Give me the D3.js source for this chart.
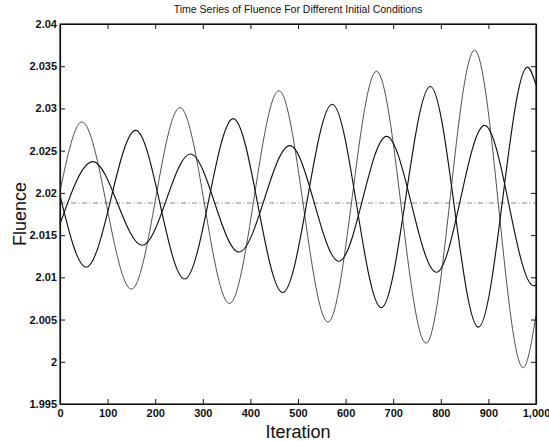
<!DOCTYPE html>
<html>
<head>
<meta charset="utf-8">
<script src="https://cdn.jsdelivr.net/npm/d3@7"></script>
<style>
  body { margin: 0; background: #fff; }
  text { font-family: "Liberation Sans", Arial, sans-serif; fill: #111; }
</style>
</head>
<body>
<svg id="chart" width="549" height="441"></svg>
<script>
// iteration / fluence pairs: ends plus every peak and trough
var seriesA = [
  [0, 2.0202], [46, 2.0284], [150, 2.0086], [252, 2.0301], [356, 2.0069],
  [460, 2.0321], [563, 2.0047], [665, 2.0344], [769, 2.0022], [871, 2.0369],
  [973, 1.9993], [1000, 2.0055]
];
var seriesB = [
  [0, 2.0197], [55, 2.0112], [159, 2.0274], [262, 2.0098], [364, 2.0288],
  [468, 2.0082], [572, 2.0305], [675, 2.0064], [778, 2.0326], [879, 2.0041],
  [982, 2.0349], [1000, 2.0328]
];
var seriesC = [
  [0, 2.0163], [69, 2.0237], [173, 2.0138], [274, 2.0246], [376, 2.0130],
  [483, 2.0256], [586, 2.0119], [686, 2.0267], [791, 2.0106], [892, 2.0280],
  [995, 2.0090], [1000, 2.0091]
];
var steadyState = [[0, 2.0188], [1000, 2.0188]];

var xTicks = [0, 100, 200, 300, 400, 500, 600, 700, 800, 900, 1000];
var yTicks = [1.995, 2, 2.005, 2.01, 2.015, 2.02, 2.025, 2.03, 2.035, 2.04];
var yTickLabels = ["1.995", "2", "2.005", "2.01", "2.015", "2.02", "2.025", "2.03", "2.035", "2.04"];

var svg = d3.select("#chart"),
  margin = { top: 24, right: 13, bottom: 37, left: 60 },
  width = +svg.attr("width") - margin.left - margin.right,
  height = +svg.attr("height") - margin.top - margin.bottom,
  g = svg.append("g")
    .attr("transform", "translate(" + margin.left + "," + margin.top + ")");

var x = d3.scaleLinear().domain([0, 1000]).range([0, width]);
var y = d3.scaleLinear().domain([1.995, 2.04]).range([height, 0]);

var line = d3.line()
  .x(function(d) { return x(d[0]); })
  .y(function(d) { return y(d[1]); })
  .curve(d3.curveMonotoneX);

// dash-dot reference level
g.append("path")
  .datum(steadyState)
  .attr("fill", "none")
  .attr("stroke", "#555")
  .attr("stroke-width", 0.7)
  .attr("stroke-dasharray", "5,2.5,1,2.5")
  .attr("d", line);

g.append("path")
  .datum(seriesA)
  .attr("fill", "none")
  .attr("stroke", "#333")
  .attr("stroke-width", 0.85)
  .attr("d", line);

g.append("path")
  .datum(seriesB)
  .attr("fill", "none")
  .attr("stroke", "#111")
  .attr("stroke-width", 1.15)
  .attr("d", line);

g.append("path")
  .datum(seriesC)
  .attr("fill", "none")
  .attr("stroke", "#111")
  .attr("stroke-width", 1.15)
  .attr("d", line);

// axes, ticks pointing inward on all sides
var xAxis = g.append("g")
  .attr("transform", "translate(0," + height + ")")
  .call(d3.axisBottom(x).tickValues(xTicks).tickSizeInner(-5).tickSizeOuter(0).tickPadding(4));
xAxis.selectAll("text").attr("font-size", 11).attr("font-weight", "bold").attr("dy", "0.85em");

var yAxis = g.append("g")
  .call(d3.axisLeft(y).tickValues(yTicks)
    .tickFormat(function(d, i) { return yTickLabels[i]; })
    .tickSizeInner(-5).tickSizeOuter(0).tickPadding(3));
yAxis.selectAll("text").attr("font-size", 11).attr("font-weight", "bold");

g.append("g")
  .call(d3.axisTop(x).tickValues(xTicks).tickSizeInner(-5).tickSizeOuter(0).tickFormat(""));
g.append("g")
  .attr("transform", "translate(" + width + ",0)")
  .call(d3.axisRight(y).tickValues(yTicks).tickSizeInner(-5).tickSizeOuter(0).tickFormat(""));

g.selectAll(".domain").attr("stroke", "#111").attr("stroke-width", 1.2);
g.selectAll(".tick line").attr("stroke", "#111");

g.append("rect")
  .attr("width", width)
  .attr("height", height)
  .attr("fill", "none")
  .attr("stroke", "#111")
  .attr("stroke-width", 1.2);

svg.append("text")
  .attr("x", margin.left + width / 2)
  .attr("y", 13)
  .attr("text-anchor", "middle")
  .attr("font-size", 10.5)
  .text("Time Series of Fluence For Different Initial Conditions");

svg.append("text")
  .attr("x", margin.left + width / 2)
  .attr("y", 438)
  .attr("text-anchor", "middle")
  .attr("font-size", 18)
  .text("Iteration");

svg.append("text")
  .attr("transform", "translate(26," + (margin.top + height / 2) + ") rotate(-90)")
  .attr("text-anchor", "middle")
  .attr("font-size", 18)
  .text("Fluence");
</script>
</body>
</html>
